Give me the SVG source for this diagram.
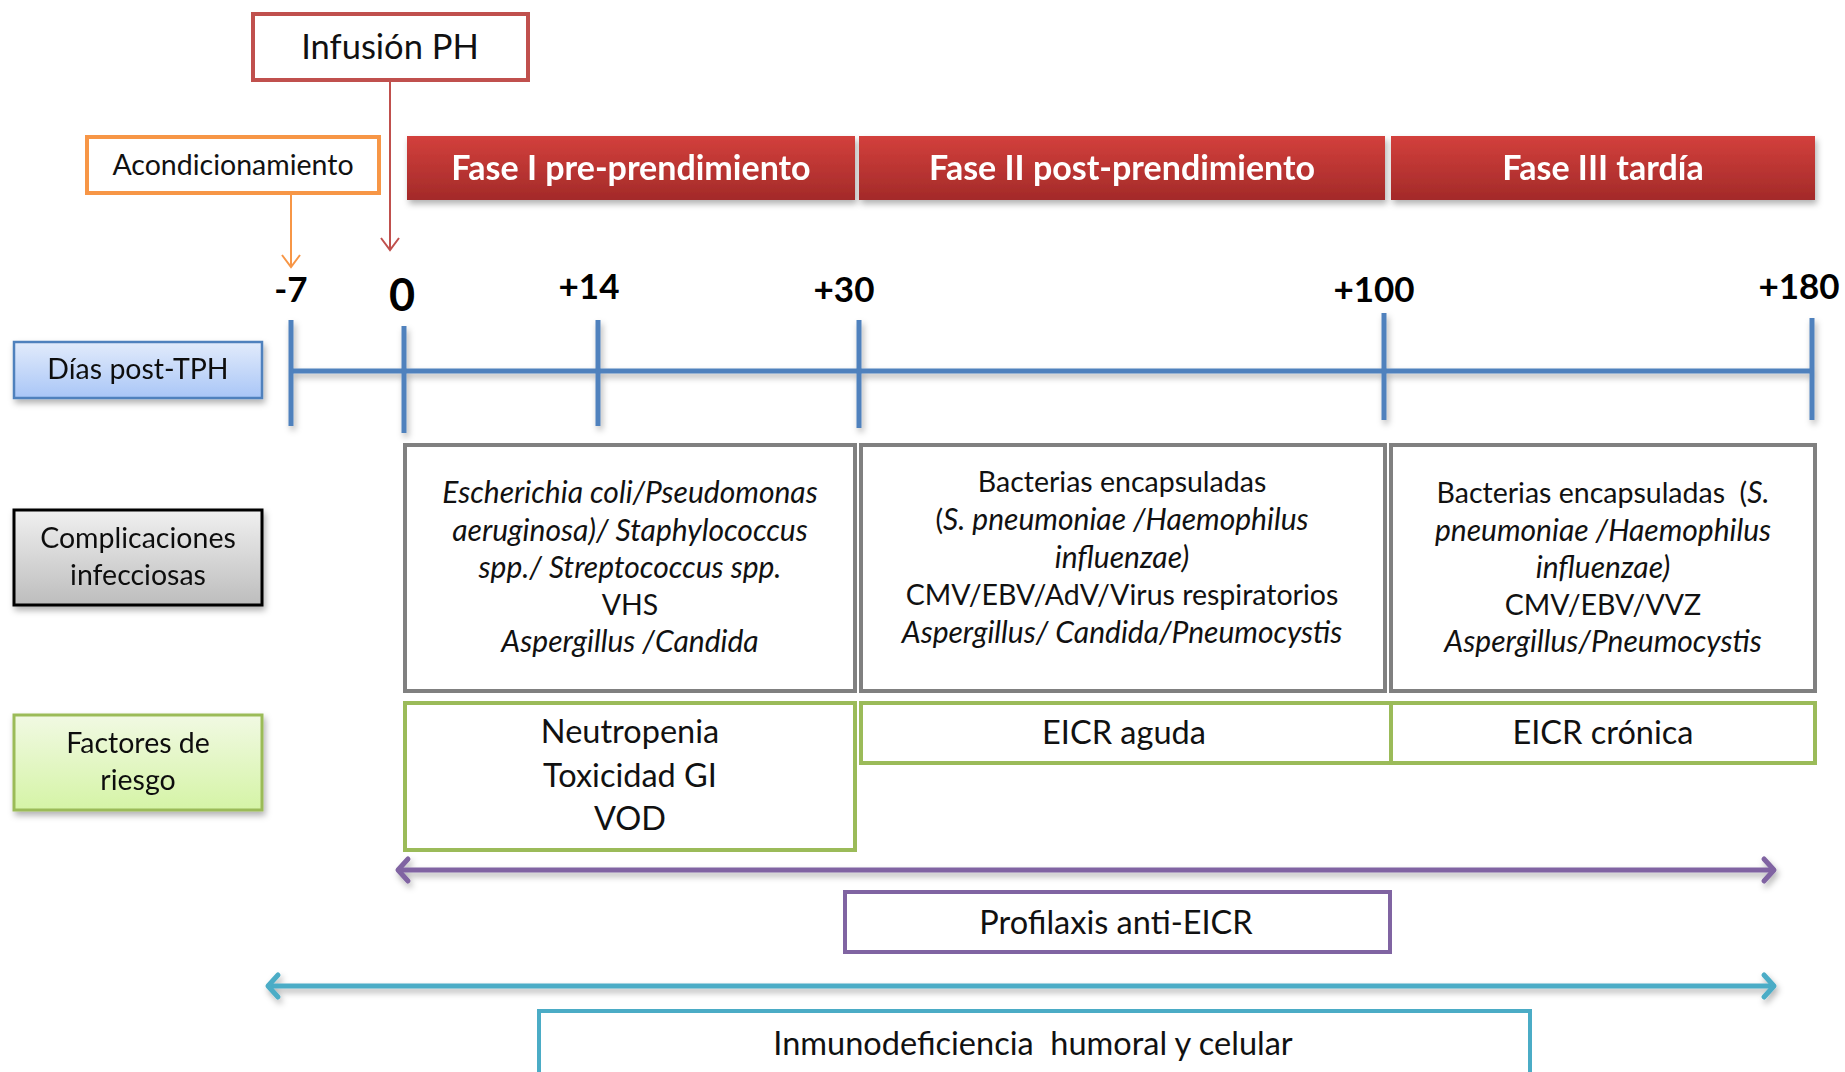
<svg xmlns="http://www.w3.org/2000/svg" width="1845" height="1072" viewBox="0 0 1845 1072">
<defs>
<style>
.t{font-family:Lato,"Open Sans","Liberation Sans",sans-serif;fill:#111;text-anchor:middle}
.lab{font-size:28.5px}
.ph{font-family:Lato,"Open Sans","Liberation Sans",sans-serif;font-weight:bold;font-size:34px;fill:#fff;text-anchor:middle}
.tick{font-family:Lato,"Liberation Sans",sans-serif;font-weight:bold;font-size:35px;fill:#000;text-anchor:middle}
.cx{font-size:28.5px}
.i{font-style:italic;font-size:30px}
.rf{font-size:32.5px}
.tl{stroke:#4F81BD;stroke-width:5;fill:none}
</style>
<linearGradient id="gRed" x1="0" y1="0" x2="0" y2="1"><stop offset="0" stop-color="#D3403C"/><stop offset="1" stop-color="#A32A29"/></linearGradient>
<linearGradient id="gBlue" x1="0" y1="0" x2="0" y2="1"><stop offset="0" stop-color="#E2EBFB"/><stop offset="1" stop-color="#A9C6F7"/></linearGradient>
<linearGradient id="gGray" x1="0" y1="0" x2="0" y2="1"><stop offset="0" stop-color="#F0F0F0"/><stop offset="1" stop-color="#BDBDBD"/></linearGradient>
<linearGradient id="gGreen" x1="0" y1="0" x2="0" y2="1"><stop offset="0" stop-color="#F1F9E3"/><stop offset="1" stop-color="#D5F4A6"/></linearGradient>
<filter id="sh" x="-5%" y="-10%" width="115%" height="140%"><feDropShadow dx="2" dy="4" stdDeviation="3" flood-color="#000" flood-opacity="0.3"/></filter>
<filter id="shU" filterUnits="userSpaceOnUse" x="0" y="0" width="1845" height="1072"><feDropShadow dx="2" dy="4" stdDeviation="3" flood-color="#000" flood-opacity="0.3"/></filter>
<marker id="aRed" markerWidth="26" markerHeight="26" refX="13" refY="13" orient="auto" markerUnits="userSpaceOnUse"><path d="M1,4 L13,13 L1,22" fill="none" stroke="#C0504D" stroke-width="2"/></marker>
<marker id="aOr" markerWidth="26" markerHeight="26" refX="13" refY="13" orient="auto" markerUnits="userSpaceOnUse"><path d="M1,4 L13,13 L1,22" fill="none" stroke="#F79646" stroke-width="2"/></marker>
<marker id="aPu" markerWidth="30" markerHeight="30" refX="20" refY="15" orient="auto-start-reverse" markerUnits="userSpaceOnUse"><path d="M10,4 L20,15 L10,26" fill="none" stroke="#8064A2" stroke-width="5" stroke-linecap="round" stroke-linejoin="round"/></marker>
<marker id="aCy" markerWidth="30" markerHeight="30" refX="20" refY="15" orient="auto-start-reverse" markerUnits="userSpaceOnUse"><path d="M10,4 L20,15 L10,26" fill="none" stroke="#4BACC6" stroke-width="5" stroke-linecap="round" stroke-linejoin="round"/></marker>
</defs>
<rect width="1845" height="1072" fill="#fff"/>

<g id="connectors">
<line x1="390" y1="80" x2="390" y2="250" stroke="#C0504D" stroke-width="2" marker-end="url(#aRed)"/>
<line x1="291" y1="193" x2="291" y2="267" stroke="#F79646" stroke-width="2" marker-end="url(#aOr)"/>
<g filter="url(#shU)">
<line x1="398" y1="870" x2="1774" y2="870" stroke="#8064A2" stroke-width="5" marker-start="url(#aPu)" marker-end="url(#aPu)"/>
<line x1="268" y1="986" x2="1774" y2="986" stroke="#4BACC6" stroke-width="5" marker-start="url(#aCy)" marker-end="url(#aCy)"/>
</g>
</g>

<g id="infusion">
<rect x="253" y="14" width="275" height="66" fill="#fff" stroke="#C0504D" stroke-width="4"/>
<text class="t" x="390" y="59" style="font-size:34.5px">Infusión PH</text>
</g>
<g id="acondicionamiento">
<rect x="87" y="137" width="292" height="56" fill="#fff" stroke="#F79646" stroke-width="4"/>
<text class="t lab" x="233" y="175">Acondicionamiento</text>
</g>

<g id="fase1" filter="url(#sh)">
<rect x="407" y="136" width="448" height="64" fill="url(#gRed)"/>
<text class="ph" x="631" y="180">Fase I pre-prendimiento</text>
</g>
<g id="fase2" filter="url(#sh)">
<rect x="859" y="136" width="526" height="64" fill="url(#gRed)"/>
<text class="ph" x="1122" y="180">Fase II post-prendimiento</text>
</g>
<g id="fase3" filter="url(#sh)">
<rect x="1391" y="136" width="424" height="64" fill="url(#gRed)"/>
<text class="ph" x="1603" y="180">Fase III tardía</text>
</g>

<g id="timeline" filter="url(#sh)">
<line class="tl" x1="291" y1="371" x2="1814" y2="371" stroke-width="7"/>
<line class="tl" x1="291" y1="320" x2="291" y2="426"/>
<line class="tl" x1="404" y1="326" x2="404" y2="433"/>
<line class="tl" x1="598" y1="320" x2="598" y2="426"/>
<line class="tl" x1="859" y1="320" x2="859" y2="428"/>
<line class="tl" x1="1384" y1="313" x2="1384" y2="420"/>
<line class="tl" x1="1812" y1="318" x2="1812" y2="420"/>
</g>
<g id="ticks">
<text class="tick" x="291" y="302">-7</text>
<text class="tick" x="402" y="311" style="font-size:45px">0</text>
<text class="tick" x="589" y="299">+14</text>
<text class="tick" x="844" y="302">+30</text>
<text class="tick" x="1374" y="302">+100</text>
<text class="tick" x="1799" y="299">+180</text>
</g>

<g id="dias" filter="url(#sh)">
<rect x="14" y="342" width="248" height="56" fill="url(#gBlue)" stroke="#4F81BD" stroke-width="2.5"/>
<text class="t lab" x="138" y="379">Días post-TPH</text>
</g>
<g id="complicaciones" filter="url(#sh)">
<rect x="14" y="510" width="248" height="95" fill="url(#gGray)" stroke="#000" stroke-width="3"/>
<text class="t lab" x="138" y="548">Complicaciones</text>
<text class="t lab" x="138" y="585">infecciosas</text>
</g>
<g id="factores" filter="url(#sh)">
<rect x="14" y="715" width="248" height="95" fill="url(#gGreen)" stroke="#9BBB59" stroke-width="3"/>
<text class="t lab" x="138" y="753">Factores de</text>
<text class="t lab" x="138" y="790">riesgo</text>
</g>

<g id="comp1">
<rect x="405" y="445" width="450" height="246" fill="#fff" stroke="#808080" stroke-width="4"/>
<text class="t cx i" x="630" y="503">Escherichia coli/Pseudomonas</text>
<text class="t cx i" x="630" y="541">aeruginosa)/ Staphylococcus</text>
<text class="t cx i" x="630" y="578">spp./ Streptococcus spp.</text>
<text class="t cx" x="630" y="615">VHS</text>
<text class="t cx i" x="630" y="652">Aspergillus /Candida</text>
</g>
<g id="comp2">
<rect x="861" y="445" width="524" height="246" fill="#fff" stroke="#808080" stroke-width="4"/>
<text class="t cx" x="1122" y="492">Bacterias encapsuladas</text>
<text class="t cx" x="1122" y="530">(<tspan class="i">S. pneumoniae /Haemophilus</tspan></text>
<text class="t cx i" x="1122" y="568">influenzae)</text>
<text class="t cx" x="1122" y="605">CMV/EBV/AdV/Virus respiratorios</text>
<text class="t cx i" x="1122" y="643">Aspergillus/ Candida/Pneumocystis</text>
</g>
<g id="comp3">
<rect x="1391" y="445" width="424" height="246" fill="#fff" stroke="#808080" stroke-width="4"/>
<text class="t cx" x="1603" y="503" xml:space="preserve">Bacterias encapsuladas  (<tspan class="i">S.</tspan></text>
<text class="t cx i" x="1603" y="541">pneumoniae /Haemophilus</text>
<text class="t cx i" x="1603" y="578">influenzae)</text>
<text class="t cx" x="1603" y="615">CMV/EBV/VVZ</text>
<text class="t cx i" x="1603" y="652">Aspergillus/Pneumocystis</text>
</g>

<g id="riesgo1">
<rect x="405" y="703" width="450" height="147" fill="#fff" stroke="#9BBB59" stroke-width="4"/>
<text class="t rf" x="630" y="743">Neutropenia</text>
<text class="t rf" x="630" y="787">Toxicidad GI</text>
<text class="t rf" x="630" y="830">VOD</text>
</g>
<g id="riesgo2">
<rect x="861" y="703" width="530" height="60" fill="#fff" stroke="#9BBB59" stroke-width="4"/>
<text class="t rf" x="1124" y="744">EICR aguda</text>
</g>
<g id="riesgo3">
<rect x="1391" y="703" width="424" height="60" fill="#fff" stroke="#9BBB59" stroke-width="4"/>
<text class="t rf" x="1603" y="744">EICR crónica</text>
</g>

<g id="profilaxis">
<rect x="845" y="892" width="545" height="60" fill="#fff" stroke="#8064A2" stroke-width="4"/>
<text class="t rf" x="1116" y="934">Profilaxis anti-EICR</text>
</g>
<g id="inmuno">
<rect x="539" y="1011" width="991" height="70" fill="#fff" stroke="#4BACC6" stroke-width="4"/>
<text class="t rf" x="1033" y="1055" xml:space="preserve">Inmunodeficiencia  humoral y celular</text>
</g>
</svg>
